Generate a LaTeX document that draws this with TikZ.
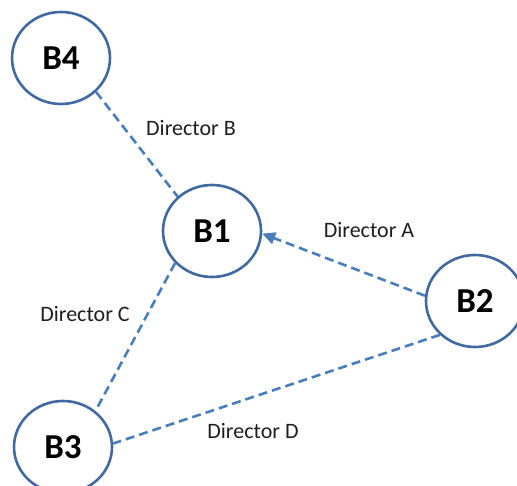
\documentclass[tikz,border=0pt]{standalone}
\usepackage{fontspec}
\setmainfont{Carlito}
\usetikzlibrary{shapes.geometric,arrows.meta}
\definecolor{ringblue}{RGB}{65,105,160}
\definecolor{linkblue}{RGB}{74,126,187}
\tikzset{
  board/.style={ellipse, draw=ringblue, line width=2.6pt, fill=white,
    minimum width=98pt, minimum height=92pt, inner sep=0pt,
    font=\fontsize{35}{38}\selectfont\bfseries},
  link/.style={draw=linkblue, line width=2.6pt, dash pattern=on 9pt off 5pt},
  tag/.style={font=\fontsize{22}{25}\selectfont, text=black!88}
}
\begin{document}
\begin{tikzpicture}[x=1pt,y=-1pt]
  \useasboundingbox (0,0) rectangle (517,486);
  \clip (0,0) rectangle (517,486);
  \fill[white] (0,0) rectangle (517,486);

  % boards
  \node[board] (b4) at (61,58)  {B4};
  \node[board] (b1) at (212,231) {B1};
  \node[board] (b2) at (475,301) {B2};
  \node[board] (b3) at (63,447)  {B3};

  % director links
  \draw[link] (b4.316) -- (b1.135);
  \draw[link] (b1.221) -- (b3.48);
  \draw[link] (b2.224) -- (b3.4);
  \draw[link, -{Triangle[length=13pt,width=12pt]}] (b2.174) -- (b1.357);

  % labels
  \node[tag] (la) at (369,230) {Director A};
  \node[tag] (lb) at (191,128) {Director B};
  \node[tag] (lc) at (85,314)  {Director C};
  \node[tag] (ld) at (253,431) {Director D};
\end{tikzpicture}
\end{document}
